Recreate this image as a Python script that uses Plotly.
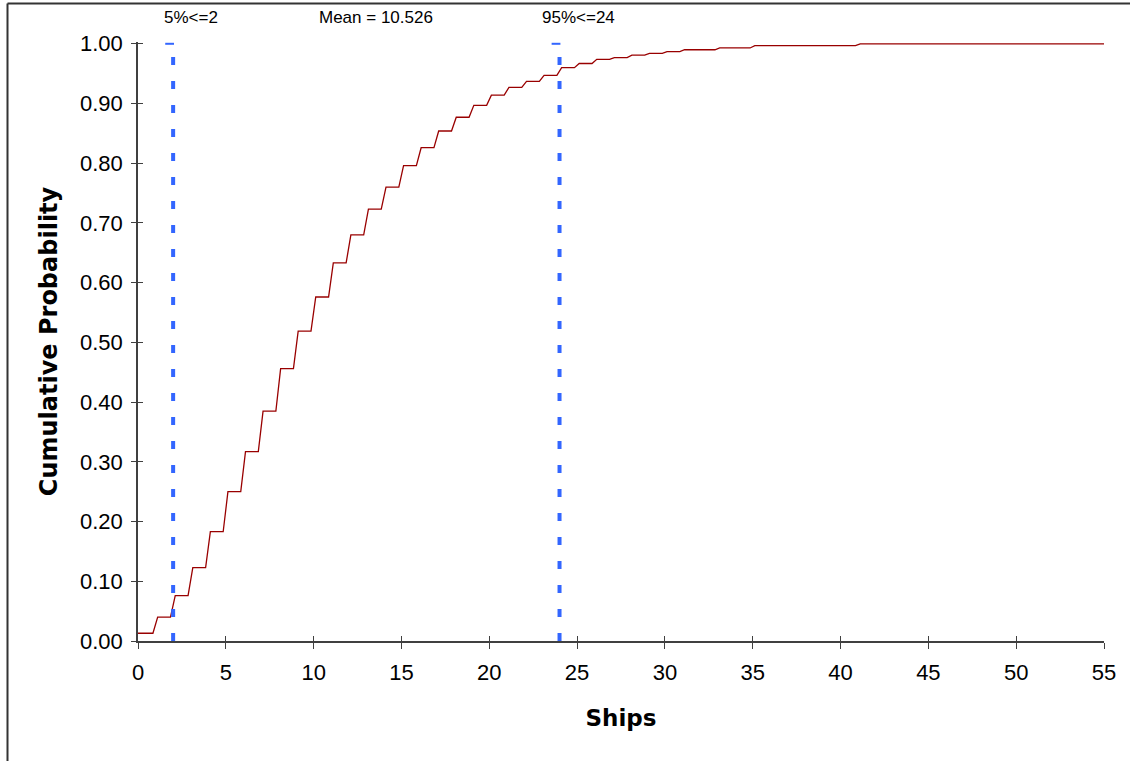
import plotly.graph_objects as go

# ---------------- data ----------------
ships = list(range(0, 56))
cum_prob = [
    0.013, 0.040, 0.076, 0.123, 0.183, 0.250, 0.317, 0.385, 0.456, 0.519,
    0.576, 0.633, 0.680, 0.723, 0.760, 0.796, 0.826, 0.854, 0.877, 0.897,
    0.914, 0.927, 0.937, 0.947, 0.960, 0.967, 0.974, 0.977, 0.981, 0.984,
    0.987, 0.990, 0.990, 0.993, 0.993, 0.997, 0.997, 0.997, 0.997, 0.997,
    0.997, 1.000, 1.000, 1.000, 1.000, 1.000, 1.000, 1.000, 1.000, 1.000,
    1.000, 1.000, 1.000, 1.000, 1.000, 1.000,
]
p5_value = 2
p95_value = 24
mean_value = 10.526
label_texts = ["5%<=2", "Mean = 10.526", "95%<=24"]
label_positions = [p5_value, mean_value, p95_value]

x_tick_vals = list(range(0, 56, 5))
y_tick_vals = [round(i * 0.1, 1) for i in range(11)]

# ---------------- build step path ----------------
RISE_BEFORE = 0.15
RISE_AFTER = 0.12
xs = [ships[0]]
ys = [cum_prob[0]]
for i in range(1, len(ships)):
    if cum_prob[i] != cum_prob[i - 1]:
        xs += [ships[i] - RISE_BEFORE, ships[i] + RISE_AFTER]
        ys += [cum_prob[i - 1], cum_prob[i]]
xs.append(ships[-1])
ys.append(cum_prob[-1])

fig = go.Figure()
fig.add_trace(go.Scatter(
    x=xs, y=ys, mode="lines",
    line=dict(color="#990000", width=1.3),
    showlegend=False, hoverinfo="skip",
))

BLUE = "#3366FF"
for px in (p5_value, p95_value):
    fig.add_trace(go.Scatter(
        x=[px, px], y=[0, 1], mode="lines",
        line=dict(color=BLUE, width=4, dash="8px,16px"),
        showlegend=False, hoverinfo="skip",
    ))
    fig.add_trace(go.Scatter(
        x=[px - 0.45, px + 0.05], y=[1, 1], mode="lines",
        line=dict(color=BLUE, width=2),
        showlegend=False, hoverinfo="skip",
    ))

# invisible trace for inside-tick overlay axes
fig.add_trace(go.Scatter(
    x=[0], y=[0], xaxis="x2", yaxis="y2", mode="markers",
    marker=dict(opacity=0), showlegend=False, hoverinfo="skip",
))

label_shifts = [18, 53, 19]
for txt, xv, sh in zip(label_texts, label_positions, label_shifts):
    fig.add_annotation(
        x=xv, y=1.0, xref="x", yref="y", text=txt, showarrow=False,
        xanchor="center", yanchor="middle", xshift=sh, yshift=26,
        font=dict(family="Liberation Sans, Arial", size=17, color="black"),
    )

AX = "#404040"
TICKFONT = dict(family="Liberation Sans, Arial", size=22, color="black")
YMAX = 1.003

fig.update_layout(
    width=1130, height=761,
    margin=dict(l=138, r=26, t=42, b=120),
    paper_bgcolor="white", plot_bgcolor="white",
    xaxis=dict(
        range=[0, 55], tickvals=x_tick_vals, ticktext=[str(v) for v in x_tick_vals],
        showgrid=False, zeroline=False, showline=True, linecolor=AX, linewidth=1.5,
        ticks="outside", ticklen=6, tickwidth=1, tickcolor=AX,
        tickfont=TICKFONT, ticklabelstandoff=5,
        title=dict(text="Ships", standoff=26,
                   font=dict(family="DejaVu Sans", size=23, color="black",
                             weight="bold")),
        automargin=False,
    ),
    yaxis=dict(
        range=[0, YMAX], tickvals=y_tick_vals,
        ticktext=[f"{v:.2f}" for v in y_tick_vals],
        showgrid=False, zeroline=False, showline=True, linecolor=AX, linewidth=1.5,
        ticks="outside", ticklen=5, tickwidth=1, tickcolor=AX,
        tickfont=TICKFONT, ticklabelstandoff=4,
        title=dict(text="Cumulative Probability", standoff=16,
                   font=dict(family="DejaVu Sans", size=24, color="black",
                             weight="bold")),
        automargin=False,
    ),
    xaxis2=dict(
        overlaying="x", anchor="y2", side="bottom", range=[0, 55],
        tickvals=x_tick_vals, showticklabels=False, showgrid=False,
        zeroline=False, showline=False, ticks="inside", ticklen=5,
        tickwidth=1, tickcolor=AX,
    ),
    yaxis2=dict(
        overlaying="y", anchor="x2", side="left", range=[0, YMAX],
        tickvals=y_tick_vals, showticklabels=False, showgrid=False,
        zeroline=False, showline=False, ticks="inside", ticklen=5,
        tickwidth=1, tickcolor=AX,
    ),
)

# outer frame (left and top edges visible)
fx0 = (7.5 - 138) / 966
fx1 = (1140 - 138) / 966
fy_top = (641 - 3.5) / 599
fy_bot = (641 - 770) / 599
fig.add_shape(type="line", xref="paper", yref="paper", x0=fx0, x1=fx0,
              y0=fy_bot, y1=fy_top, line=dict(color="#333333", width=2))
fig.add_shape(type="line", xref="paper", yref="paper", x0=fx0, x1=fx1,
              y0=fy_top, y1=fy_top, line=dict(color="#333333", width=2))

fig.write_html("out.html")
